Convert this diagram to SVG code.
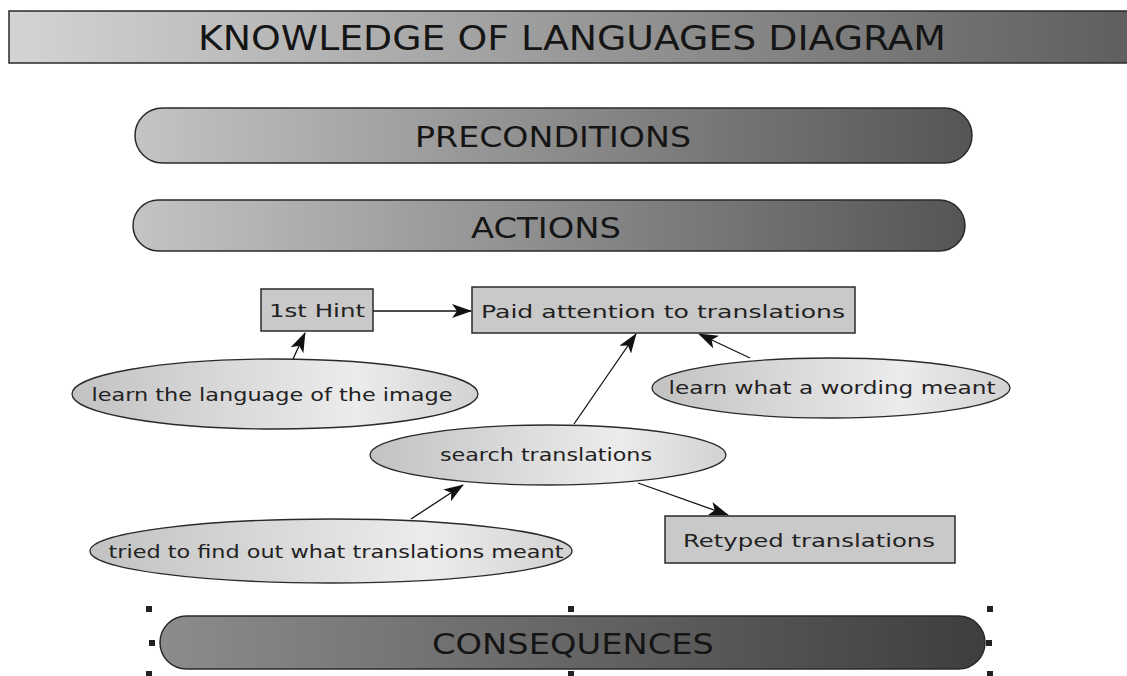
<svg xmlns="http://www.w3.org/2000/svg" width="1127" height="676" viewBox="0 0 1127 676">
<defs>
<linearGradient id="gTitle" x1="0" y1="0" x2="1" y2="0"><stop offset="0" stop-color="#d4d4d4"/><stop offset="1" stop-color="#5e5e5e"/></linearGradient>
<linearGradient id="gBar" x1="0" y1="0" x2="1" y2="0"><stop offset="0" stop-color="#c4c4c4"/><stop offset="1" stop-color="#555555"/></linearGradient>
<linearGradient id="gDark" x1="0" y1="0" x2="1" y2="0"><stop offset="0" stop-color="#8c8c8c"/><stop offset="1" stop-color="#3e3e3e"/></linearGradient>
<linearGradient id="gEll" x1="0" y1="0" x2="1" y2="0"><stop offset="0" stop-color="#c2c2c2"/><stop offset="0.7" stop-color="#ececec"/><stop offset="1" stop-color="#d2d2d2"/></linearGradient>
<marker id="arr" markerWidth="20" markerHeight="14" refX="19" refY="7" orient="auto" markerUnits="userSpaceOnUse"><path d="M0,0 L20,7 L0,14 L5,7 z" fill="#111"/></marker>
<style>
.bar{stroke:#2a2a2a;stroke-width:1.5}
.hdr{font-family:"DejaVu Sans Condensed","DejaVu Sans",sans-serif;fill:#151515;text-anchor:middle}
.box{fill:#c9c9c9;stroke:#2a2a2a;stroke-width:1.5}
.ell{fill:url(#gEll);stroke:#2a2a2a;stroke-width:1.3}
.lbl{font-family:"DejaVu Sans",sans-serif;font-size:17.5px;fill:#222;text-anchor:middle}
.con{stroke:#111;stroke-width:1.3;fill:none;marker-end:url(#arr)}
.h{fill:#222}
</style>
</defs>
<rect width="1127" height="676" fill="#ffffff"/>
<g id="title">
<rect x="9" y="11" width="1125" height="52" fill="url(#gTitle)" class="bar"/>
<text x="572" y="50" class="hdr" font-size="33" textLength="748" lengthAdjust="spacingAndGlyphs">KNOWLEDGE OF LANGUAGES DIAGRAM</text>
</g>
<g id="preconditions">
<rect x="135" y="108" width="837" height="55" rx="27.5" fill="url(#gBar)" class="bar"/>
<text x="553" y="147" class="hdr" font-size="29" textLength="276" lengthAdjust="spacingAndGlyphs">PRECONDITIONS</text>
</g>
<g id="actions">
<rect x="133" y="200" width="832" height="51" rx="25.5" fill="url(#gBar)" class="bar"/>
<text x="546" y="238" class="hdr" font-size="29" textLength="150" lengthAdjust="spacingAndGlyphs">ACTIONS</text>
</g>
<g id="consequences">
<rect x="160" y="616" width="825" height="53" rx="26.5" fill="url(#gDark)" class="bar"/>
<text x="573" y="654" class="hdr" font-size="29" textLength="282" lengthAdjust="spacingAndGlyphs">CONSEQUENCES</text>
<rect class="h" x="146" y="606" width="6" height="6"/>
<rect class="h" x="568" y="606" width="6" height="6"/>
<rect class="h" x="987" y="606" width="6" height="6"/>
<rect class="h" x="149" y="640" width="6" height="6"/>
<rect class="h" x="986" y="640" width="6" height="6"/>
<rect class="h" x="146" y="671" width="6" height="6"/>
<rect class="h" x="568" y="671" width="6" height="6"/>
<rect class="h" x="987" y="671" width="6" height="6"/>
</g>
<g id="connectors">
<line class="con" x1="373" y1="311" x2="471" y2="311"/>
<line class="con" x1="293" y1="359" x2="305" y2="333"/>
<line class="con" x1="750" y1="358" x2="699" y2="334"/>
<line class="con" x1="574" y1="424" x2="636" y2="334"/>
<line class="con" x1="411" y1="519" x2="463" y2="485"/>
<line class="con" x1="638" y1="483" x2="728" y2="515"/>
</g>
<g id="hint1">
<rect x="261" y="289" width="112" height="42" class="box"/>
<text x="317" y="317" class="lbl" textLength="96" lengthAdjust="spacingAndGlyphs">1st Hint</text>
</g>
<g id="paid">
<rect x="472" y="287" width="383" height="46" class="box"/>
<text x="663" y="318" class="lbl" textLength="364" lengthAdjust="spacingAndGlyphs">Paid attention to translations</text>
</g>
<g id="learnLang">
<ellipse cx="275" cy="394" rx="203" ry="35" class="ell"/>
<text x="272" y="401" class="lbl" textLength="361" lengthAdjust="spacingAndGlyphs">learn the language of the image</text>
</g>
<g id="learnWording">
<ellipse cx="831" cy="388" rx="179" ry="30" class="ell"/>
<text x="832" y="394" class="lbl" textLength="327" lengthAdjust="spacingAndGlyphs">learn what a wording meant</text>
</g>
<g id="search">
<ellipse cx="548" cy="455" rx="178" ry="30" class="ell"/>
<text x="546" y="461" class="lbl" textLength="212" lengthAdjust="spacingAndGlyphs">search translations</text>
</g>
<g id="tried">
<ellipse cx="331" cy="551" rx="241" ry="32" class="ell"/>
<text x="336" y="558" class="lbl" textLength="455" lengthAdjust="spacingAndGlyphs">tried to find out what translations meant</text>
</g>
<g id="retyped">
<rect x="665" y="516" width="290" height="47" class="box"/>
<text x="809" y="547" class="lbl" textLength="252" lengthAdjust="spacingAndGlyphs">Retyped translations</text>
</g>
</svg>
